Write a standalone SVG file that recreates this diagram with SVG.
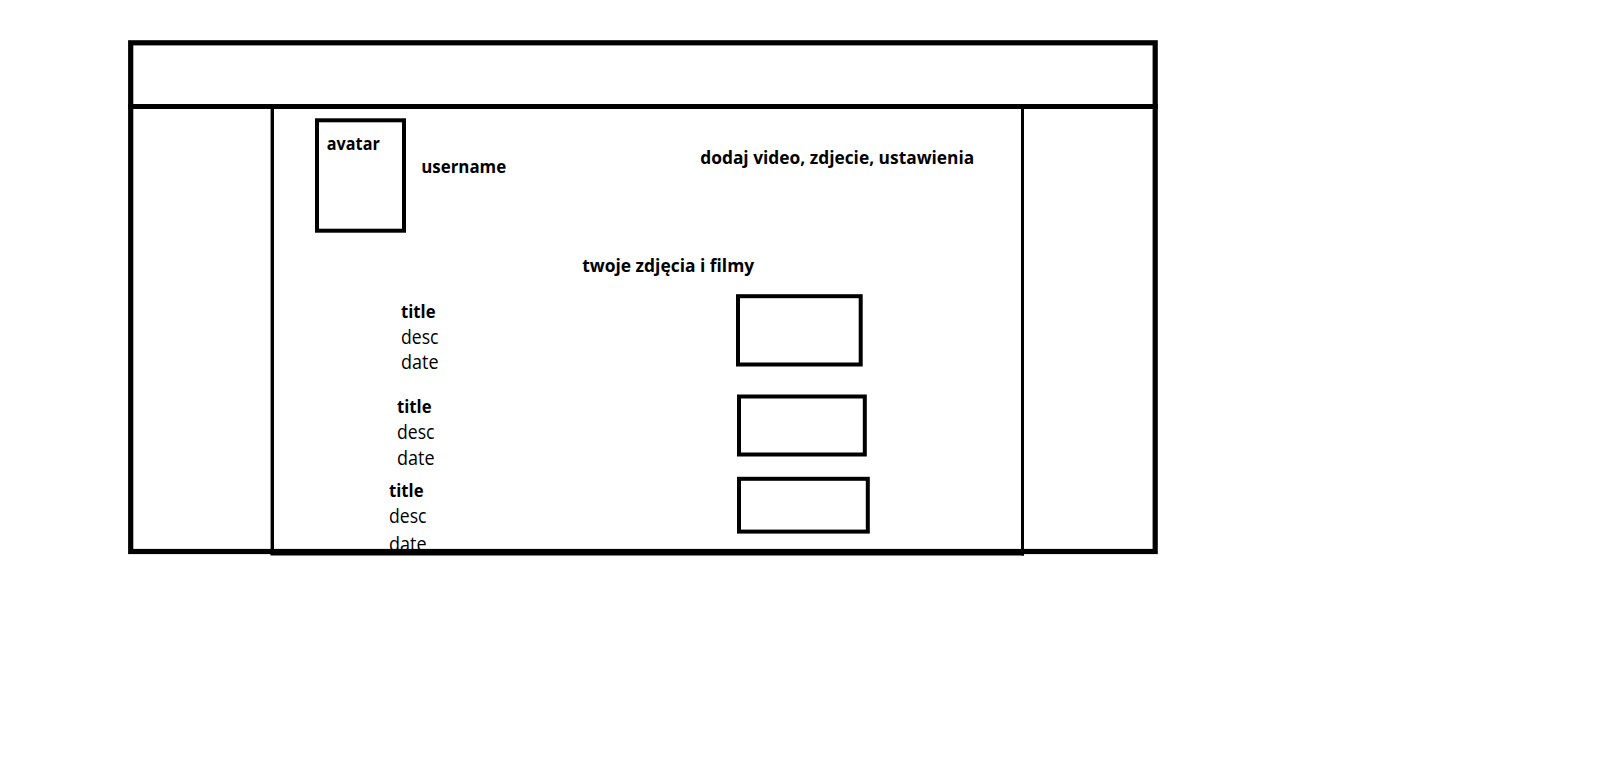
<svg xmlns="http://www.w3.org/2000/svg" width="1598" height="782" viewBox="0 0 1598 782">
<style>
.ln{fill:none;stroke:#000;stroke-linecap:square}
.box{fill:none;stroke:#000;stroke-width:4}
.b{font-family:"Open Sans","Liberation Sans",sans-serif;font-weight:bold;font-size:18.5px;fill:#000}
.r{font-family:"Open Sans","Liberation Sans",sans-serif;font-size:19.5px;fill:#000}
</style>
<rect width="1598" height="782" fill="#fff"/>
<g id="avatar">
<rect class="box" x="317" y="120.3" width="87" height="110.4"/>
<text class="b" x="326.8" y="150" textLength="53" lengthAdjust="spacingAndGlyphs">avatar</text>
</g>
<g id="username">
<text class="b" x="421.2" y="172.7" textLength="85" lengthAdjust="spacingAndGlyphs">username</text>
</g>
<g id="actions">
<text class="b" x="700.2" y="164.3" textLength="274" lengthAdjust="spacingAndGlyphs">dodaj video, zdjecie, ustawienia</text>
</g>
<g id="gallery-title">
<text class="b" x="582.2" y="271.7" textLength="172" lengthAdjust="spacingAndGlyphs">twoje zdjęcia i filmy</text>
</g>
<g id="item1">
<text class="b" x="401" y="317.7" textLength="34.5" lengthAdjust="spacingAndGlyphs">title</text>
<text class="r" x="401" y="344" textLength="37.5" lengthAdjust="spacingAndGlyphs">desc</text>
<text class="r" x="401" y="369.3" textLength="37.5" lengthAdjust="spacingAndGlyphs">date</text>
<rect class="box" x="738" y="296.2" width="122.7" height="68.3"/>
</g>
<g id="item2">
<text class="b" x="397" y="413.3" textLength="34.5" lengthAdjust="spacingAndGlyphs">title</text>
<text class="r" x="397" y="439.3" textLength="37.5" lengthAdjust="spacingAndGlyphs">desc</text>
<text class="r" x="397" y="465" textLength="37.5" lengthAdjust="spacingAndGlyphs">date</text>
<rect class="box" x="739" y="396.5" width="125.8" height="58"/>
</g>
<g id="item3">
<text class="b" x="389" y="497.3" textLength="34.5" lengthAdjust="spacingAndGlyphs">title</text>
<text class="r" x="389" y="523.3" textLength="37.5" lengthAdjust="spacingAndGlyphs">desc</text>
<text class="r" x="389" y="550.5" textLength="37.5" lengthAdjust="spacingAndGlyphs">date</text>
<rect class="box" x="739" y="478.8" width="128.8" height="52.8"/>
</g>
<g id="frame">
<rect class="ln" x="130.7" y="42.8" width="1024.5" height="508.7" stroke-width="5.2"/>
<line class="ln" x1="130.7" y1="106.5" x2="1155.2" y2="106.5" stroke-width="5"/>
<line x1="272.3" y1="108" x2="272.3" y2="555" stroke="#000" stroke-width="3.4"/>
<line x1="1022.5" y1="108" x2="1022.5" y2="555.5" stroke="#000" stroke-width="3"/>
<line x1="270.6" y1="552.6" x2="1024" y2="552.6" stroke="#000" stroke-width="6"/>
</g>
</svg>
